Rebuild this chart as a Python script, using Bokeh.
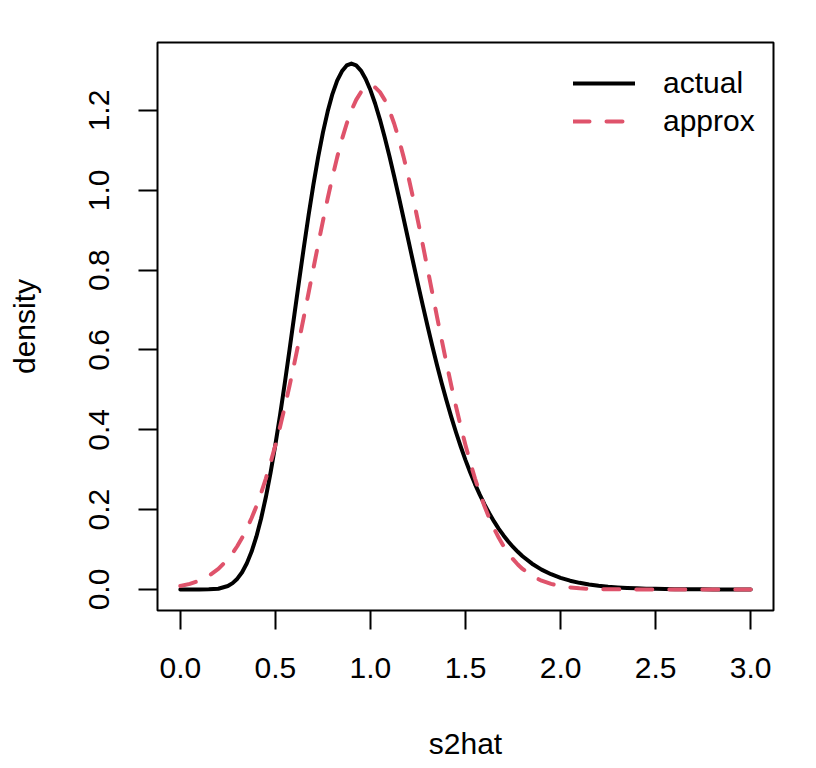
from bokeh.plotting import figure
from bokeh.models import Legend, LegendItem, FixedTicker, Range1d
from bokeh.embed import file_html
from bokeh.resources import INLINE

# grid of s2hat values (finer near the peak)
s2hat = [0.00, 0.05, 0.10, 0.15, 0.20, 0.25,
         0.275, 0.30, 0.325, 0.35, 0.375, 0.40, 0.425, 0.45, 0.475, 0.50,
         0.525, 0.55, 0.575, 0.60, 0.625, 0.65, 0.675, 0.70, 0.725, 0.75,
         0.775, 0.80, 0.825, 0.85, 0.875, 0.90, 0.925, 0.95, 0.975, 1.00,
         1.025, 1.05, 1.075, 1.10, 1.125, 1.15, 1.175, 1.20, 1.225, 1.25,
         1.275, 1.30, 1.325, 1.35, 1.375, 1.40, 1.425, 1.45, 1.475, 1.50,
         1.525, 1.55, 1.575, 1.60, 1.625, 1.65, 1.675, 1.70, 1.725, 1.75,
         1.775, 1.80,
         1.85, 1.90, 1.95, 2.00, 2.05, 2.10, 2.15, 2.20, 2.25, 2.30,
         2.35, 2.40, 2.45, 2.50, 2.55, 2.60, 2.65, 2.70, 2.75, 2.80,
         2.85, 2.90, 2.95, 3.00]

# density (solid black curve)
actual = [0.0, 0.0, 0.00001, 0.00024, 0.00191, 0.00863,
          0.0159, 0.0270, 0.0432, 0.0656, 0.0950, 0.1323, 0.1778, 0.2316, 0.2935, 0.3628,
          0.4381, 0.5184, 0.6026, 0.6886, 0.7741, 0.8581, 0.9386, 1.0141, 1.0831, 1.1445,
          1.1972, 1.2411, 1.2747, 1.2982, 1.3128, 1.3176, 1.3131, 1.3000, 1.2790, 1.2511,
          1.2168, 1.1772, 1.1330, 1.0852, 1.0346, 0.9821, 0.9281, 0.8736, 0.8191, 0.7651,
          0.7122, 0.6606, 0.6106, 0.5626, 0.5169, 0.4734, 0.4324, 0.3938, 0.3577, 0.3241,
          0.2929, 0.2640, 0.2375, 0.2131, 0.1908, 0.1705, 0.1520, 0.1353, 0.1202, 0.1065,
          0.0943, 0.0833,
          0.0646, 0.0498, 0.0382, 0.0291, 0.0220, 0.0166, 0.0124, 0.0093, 0.0069, 0.0051,
          0.0038, 0.0028, 0.0020, 0.0015, 0.0011, 0.0008, 0.0006, 0.0004, 0.0003, 0.0002,
          0.0001, 0.0001, 0.0001, 0.00005]

# density (dashed red curve)
approx = [0.0085, 0.0139, 0.0220, 0.0340, 0.0514, 0.0758,
          0.0911, 0.1089, 0.1293, 0.1526, 0.1790, 0.2085, 0.2415, 0.2780, 0.3180, 0.3615,
          0.4083, 0.4584, 0.5113, 0.5669, 0.6245, 0.6838, 0.7440, 0.8044, 0.8644, 0.9230,
          0.9795, 1.0329, 1.0825, 1.1274, 1.1668, 1.2001, 1.2266, 1.2459, 1.2577, 1.2616,
          1.2577, 1.2459, 1.2266, 1.2001, 1.1668, 1.1274, 1.0825, 1.0329, 0.9795, 0.9230,
          0.8644, 0.8044, 0.7440, 0.6838, 0.6245, 0.5669, 0.5113, 0.4584, 0.4083, 0.3615,
          0.3180, 0.2780, 0.2415, 0.2085, 0.1790, 0.1526, 0.1293, 0.1089, 0.0911, 0.0758,
          0.0626, 0.0514,
          0.0340, 0.0220, 0.0139, 0.0085, 0.0051, 0.0030, 0.0017, 0.00094, 0.00051, 0.00027,
          0.00014, 0.00007, 0.00003, 0.00002, 0.00001, 0.0, 0.0, 0.0, 0.0, 0.0,
          0.0, 0.0, 0.0, 0.0]

assert len(s2hat) == len(actual) == len(approx)

x_ticks = [0.0, 0.5, 1.0, 1.5, 2.0, 2.5, 3.0]
x_tick_labels = ["0.0", "0.5", "1.0", "1.5", "2.0", "2.5", "3.0"]
y_ticks = [0.0, 0.2, 0.4, 0.6, 0.8, 1.0, 1.2]
y_tick_labels = ["0.0", "0.2", "0.4", "0.6", "0.8", "1.0", "1.2"]
legend_labels = ["actual", "approx"]
series_colors = ["#000000", "#DF536B"]

FONT = "Liberation Sans"
FS = "30px"

p = figure(width=808, height=752, output_backend="svg", toolbar_location=None,
           min_border_left=157, min_border_right=35, min_border_top=42, min_border_bottom=142,
           x_range=Range1d(-0.12, 3.12), y_range=Range1d(-0.0527, 1.3703))
p.frame_width = 616
p.frame_height = 568
p.background_fill_color = "white"
p.border_fill_color = "white"
p.outline_line_color = "black"
p.outline_line_width = 2
p.xgrid.visible = False
p.ygrid.visible = False

r1 = p.line(s2hat, actual, line_color=series_colors[0], line_width=4, line_cap="round", line_join="round")
r2 = p.line(s2hat, approx, line_color=series_colors[1], line_width=4, line_dash="16 17",
            line_cap="round", line_join="round")

for ax in (p.xaxis[0], p.yaxis[0]):
    ax.axis_line_color = None
    ax.major_tick_in = 0
    ax.major_tick_out = 19
    ax.major_tick_line_width = 2
    ax.major_tick_line_color = "black"
    ax.minor_tick_line_color = None
    ax.major_label_text_font = FONT
    ax.major_label_text_font_size = FS
    ax.major_label_text_color = "black"
    ax.axis_label_text_font = FONT
    ax.axis_label_text_font_size = FS
    ax.axis_label_text_font_style = "normal"
    ax.axis_label_text_color = "black"

p.xaxis.ticker = FixedTicker(ticks=x_ticks)
p.xaxis.major_label_overrides = dict(zip(x_ticks, x_tick_labels))
p.xaxis.axis_label = "s2hat"
p.xaxis.major_label_standoff = 28
p.xaxis.axis_label_standoff = 46

p.yaxis.ticker = FixedTicker(ticks=y_ticks)
p.yaxis.major_label_overrides = dict(zip(y_ticks, y_tick_labels))
p.yaxis.major_label_orientation = "vertical"
p.yaxis.axis_label = "density"
p.yaxis.major_label_standoff = 29
p.yaxis.axis_label_standoff = 46

legend = Legend(items=[LegendItem(label=legend_labels[0], renderers=[r1]),
                       LegendItem(label=legend_labels[1], renderers=[r2])],
                location=(416, 472), orientation="vertical",
                border_line_color=None, background_fill_alpha=0,
                padding=0, margin=0, spacing=4,
                glyph_width=62, glyph_height=30, label_height=30, label_standoff=28,
                label_text_font=FONT, label_text_font_size=FS, label_text_color="black")
p.add_layout(legend)

open("out.html", "w").write(file_html(p, INLINE))
